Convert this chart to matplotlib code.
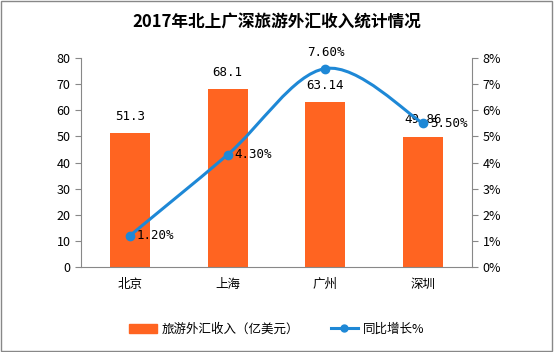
import numpy as np
import matplotlib.pyplot as plt
from matplotlib.path import Path
from matplotlib.patches import PathPatch
from matplotlib.lines import Line2D
from matplotlib.patches import Patch

plt.rcParams['font.family'] = ['Noto Sans CJK SC', 'DejaVu Sans']

## dados
cidades = ['北京', '上海', '广州', '深圳']
receita = [51.3, 68.1, 63.14, 49.86]      # 亿美元
crescimento = [1.2, 4.3, 7.6, 5.5]         # %
rotulos_receita = ['51.3', '68.1', '63.14', '49.86']
rotulos_cresc = ['1.20%', '4.30%', '7.60%', '5.50%']

cor_barra = '#FF6421'
cor_linha = '#1E88D6'
cinza = '#888888'

fig = plt.figure(figsize=(5.54, 3.52), dpi=100)
ax = fig.add_axes([0.1462, 0.2415, 0.7058, 0.5935])
ax2 = ax.twinx()

x = np.arange(len(cidades))
ax.bar(x, receita, width=0.41, color=cor_barra, zorder=2)
for i, v in enumerate(receita):
    ax.text(x[i], v + 4, rotulos_receita[i], ha='center', va='bottom',
            fontsize=9, family='DejaVu Sans Mono')

ax.set_xlim(-0.5, 3.5)
ax.set_ylim(0, 80)
ax.set_yticks(range(0, 81, 10))
ax.set_xticks(x)
ax.set_xticklabels(cidades, fontsize=9)

ax2.set_ylim(0, 8)
ax2.set_yticks(range(0, 9))
ax2.set_yticklabels([f'{t}%' for t in range(0, 9)])

## curva suavizada (catmull-rom em bezier) pelos pontos
pts = np.column_stack([x, crescimento]).astype(float)
verts = [tuple(pts[0])]
codes = [Path.MOVETO]
for i in range(len(pts) - 1):
    p0 = pts[i - 1] if i > 0 else pts[i]
    p1 = pts[i]
    p2 = pts[i + 1]
    p3 = pts[i + 2] if i + 2 < len(pts) else pts[i + 1]
    c1 = p1 + (p2 - p0) / 6
    c2 = p2 - (p3 - p1) / 6
    verts += [tuple(c1), tuple(c2), tuple(p2)]
    codes += [Path.CURVE4] * 3
ax2.add_patch(PathPatch(Path(verts, codes), fill=False, edgecolor=cor_linha,
                        lw=2.2, zorder=3))
ax2.plot(x, crescimento, 'o', color=cor_linha, ms=6, zorder=4)

for i, v in enumerate(crescimento):
    if i == 2:
        ax2.text(x[i], v + 0.35, rotulos_cresc[i], ha='center', va='bottom',
                 fontsize=9, family='DejaVu Sans Mono')
    else:
        ax2.text(x[i] + 0.07, v, rotulos_cresc[i], ha='left', va='center',
                 fontsize=9, family='DejaVu Sans Mono')

for a in (ax, ax2):
    a.spines['top'].set_visible(False)
    for s in ('left', 'right', 'bottom'):
        a.spines[s].set_color(cinza)
    a.tick_params(colors=cinza, labelcolor='black', labelsize=9, length=4)
ax.spines['right'].set_visible(False)
ax2.spines['left'].set_visible(False)
ax2.spines['bottom'].set_visible(False)
ax.tick_params(axis='x', length=0, pad=8)

fig.text(0.5, 0.935, '2017年北上广深旅游外汇收入统计情况', ha='center',
         va='center', fontsize=12, fontweight='bold')

handles = [Patch(color=cor_barra),
           Line2D([0], [0], color=cor_linha, lw=2.2, marker='o', ms=5)]
fig.legend(handles, ['旅游外汇收入（亿美元）', '同比增长%'], loc='center',
           bbox_to_anchor=(0.5, 0.065), ncol=2, frameon=False, fontsize=9,
           handlelength=2.2, columnspacing=2.5, handletextpad=0.4)

fig.patches.append(plt.Rectangle((0.002, 0.003), 0.995, 0.994,
                                 transform=fig.transFigure, fill=False,
                                 edgecolor=cinza, lw=1))

plt.savefig('out.png', dpi=100)
